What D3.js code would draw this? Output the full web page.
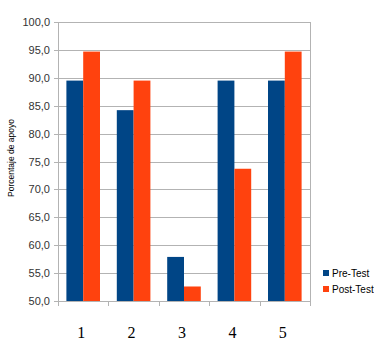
<!DOCTYPE html>
<html>
<head>
<meta charset="utf-8">
<script src="https://cdn.jsdelivr.net/npm/d3@7"></script>
<style>
  body { margin: 0; background: #fff; }
  text { font-family: "Liberation Sans", Arial, sans-serif; }
</style>
</head>
<body>
<div id="chart"></div>
<script>
// chart data
const categories = ['1', '2', '3', '4', '5'];
const seriesNames = ['Pre-Test', 'Post-Test'];
const preTest = [89.5, 84.2, 57.9, 89.5, 89.5];
const postTest = [94.7, 89.5, 52.6, 73.7, 94.7];
const yTicks = [50, 55, 60, 65, 70, 75, 80, 85, 90, 95, 100];

const colors = ['#004586', '#ff420e'];
const width = 374, height = 344;
const plot = { left: 58, right: 310, top: 22, bottom: 301 };

const svg = d3.select('#chart')
  .append('svg')
  .attr('width', width)
  .attr('height', height);

const x = d3.scaleBand()
  .domain(categories)
  .range([plot.left, plot.right])
  .paddingInner(0)
  .paddingOuter(0);

const xInner = d3.scaleBand()
  .domain(seriesNames)
  .range([0, x.bandwidth()])
  .paddingInner(0)
  .paddingOuter(0.5);

const y = d3.scaleLinear()
  .domain([50, 100])
  .range([plot.bottom, plot.top]);

// gridlines
svg.append('g')
  .selectAll('line')
  .data(yTicks)
  .enter()
  .append('line')
  .attr('x1', plot.left - 4)
  .attr('x2', plot.right)
  .attr('y1', d => Math.round(y(d)) + 0.5)
  .attr('y2', d => Math.round(y(d)) + 0.5)
  .attr('stroke', '#b3b3b3')
  .attr('stroke-width', 1);

// plot sides
svg.append('line')
  .attr('x1', plot.left + 0.5).attr('x2', plot.left + 0.5)
  .attr('y1', plot.top).attr('y2', plot.bottom)
  .attr('stroke', '#b3b3b3');
svg.append('line')
  .attr('x1', plot.right + 0.5).attr('x2', plot.right + 0.5)
  .attr('y1', plot.top).attr('y2', plot.bottom + 0.5)
  .attr('stroke', '#b3b3b3');

// y tick labels
svg.append('g')
  .selectAll('text')
  .data(yTicks)
  .enter()
  .append('text')
  .attr('x', plot.left - 8)
  .attr('y', d => y(d) + 4)
  .attr('text-anchor', 'end')
  .attr('font-size', 11)
  .attr('fill', '#333')
  .text(d => d3.format('.1f')(d).replace('.', ','));

// bars
const rows = categories.map((c, i) => ({ cat: c, values: [preTest[i], postTest[i]] }));
const groups = svg.append('g')
  .selectAll('g')
  .data(rows)
  .enter()
  .append('g')
  .attr('transform', d => `translate(${x(d.cat)},0)`);

groups.selectAll('rect')
  .data(d => d.values.map((v, j) => ({ name: seriesNames[j], v: v, j: j })))
  .enter()
  .append('rect')
  .attr('x', d => xInner(d.name))
  .attr('y', d => y(d.v))
  .attr('width', xInner.bandwidth())
  .attr('height', d => y(50) - y(d.v))
  .attr('fill', d => colors[d.j]);

// x axis line and ticks
svg.append('line')
  .attr('x1', plot.left - 4).attr('x2', plot.right + 1)
  .attr('y1', plot.bottom + 0.5).attr('y2', plot.bottom + 0.5)
  .attr('stroke', '#b3b3b3');

const xTickPos = categories.map(c => x(c)).concat([plot.right]);
svg.append('g')
  .selectAll('line')
  .data(xTickPos)
  .enter()
  .append('line')
  .attr('x1', d => Math.round(d) + 0.5)
  .attr('x2', d => Math.round(d) + 0.5)
  .attr('y1', plot.bottom)
  .attr('y2', plot.bottom + 5)
  .attr('stroke', '#b3b3b3');

// x labels
svg.append('g')
  .selectAll('text')
  .data(categories)
  .enter()
  .append('text')
  .attr('x', d => x(d) + x.bandwidth() / 2 - 2)
  .attr('y', 338)
  .attr('text-anchor', 'middle')
  .attr('font-size', 16)
  .style('font-family', '"Liberation Serif", "Times New Roman", serif')
  .attr('fill', '#000')
  .text(d => d);

// y axis title
svg.append('text')
  .attr('transform', `translate(14,158) rotate(-90)`)
  .attr('text-anchor', 'middle')
  .attr('font-size', 8.5)
  .attr('fill', '#000')
  .text('Porcentaje de apoyo');

// legend
const legend = svg.append('g')
  .selectAll('g')
  .data(seriesNames)
  .enter()
  .append('g')
  .attr('transform', (d, i) => `translate(323,${270 + i * 16})`);

legend.append('rect')
  .attr('width', 6)
  .attr('height', 6)
  .attr('fill', (d, i) => colors[i]);

legend.append('text')
  .attr('x', 9)
  .attr('y', 7)
  .attr('font-size', 10)
  .attr('fill', '#000')
  .text(d => d);
</script>
</body>
</html>
